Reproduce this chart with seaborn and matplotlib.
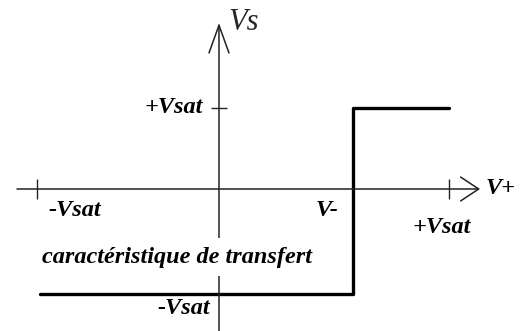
import matplotlib
matplotlib.use("Agg")
import matplotlib.pyplot as plt
import seaborn as sns
import pandas as pd

# Transfer characteristic of a comparator (units: +Vsat = 1)
vsat_pos = 1.0
vsat_neg_x = -0.79      # position of the -Vsat tick on the V+ axis (schematic)
v_minus = 0.583         # switching threshold V-
vs_low = -1.30          # low output level (schematic)
vs_high = 1.0           # high output level

curve_x = [-0.78, v_minus, v_minus, 1.0]
curve_y = [vs_low, vs_low, vs_high, vs_high]

x_ticks = [vsat_neg_x, vsat_pos]
y_ticks = [vsat_pos]
x_tick_labels = ["-Vsat", "+Vsat"]
y_tick_labels = ["+Vsat", "-Vsat"]

sns.set_style("white")
plt.rcParams['font.family'] = ['Liberation Serif', 'DejaVu Serif']

fig = plt.figure(figsize=(5.24, 3.31), dpi=100)
ax = fig.add_axes([0, 0, 1, 1])

df = pd.DataFrame({"V+": curve_x, "Vs": curve_y})
sns.lineplot(data=df, x="V+", y="Vs", sort=False, estimator=None,
             color="black", linewidth=2.4, ax=ax)

ax.set_xlim(-0.952, 1.326)
ax.set_ylim(-1.753, 2.333)

# axes through the origin
for s in ax.spines.values():
    s.set_color("none")
ax.spines['left'].set_position(('data', 0))
ax.spines['bottom'].set_position(('data', 0))
ax.set_xticks(x_ticks)
ax.set_yticks(y_ticks)
ax.set_xticklabels([])
ax.set_yticklabels([])
ax.tick_params(axis='x', bottom=True, top=False, direction='inout',
               length=14, width=1.0, color='#222222')
ax.tick_params(axis='y', left=True, right=False, direction='inout',
               length=12, width=1.0, color='#222222')
ax.set_xlabel("")
ax.set_ylabel("")

# axis lines with open arrow heads
ax.annotate("", xy=(1.135, 0), xytext=(-0.878, 0),
            arrowprops=dict(arrowstyle="->,head_length=0.65,head_width=0.43",
                            mutation_scale=20, color="#222222", lw=1.1,
                            shrinkA=0, shrinkB=0))
ax.annotate("", xy=(0, 2.05), xytext=(0, -1.753),
            arrowprops=dict(arrowstyle="->,head_length=1.0,head_width=0.36",
                            mutation_scale=20, color="#222222", lw=1.1,
                            shrinkA=0, shrinkB=0))

lab = dict(fontsize=17.5, fontweight='bold', style='italic', color='black')
ax.text(0.043, 2.05, "Vs", fontsize=22, style='italic', ha='left', va='center')
ax.text(1.157, 0.0, "V+", ha='left', va='center', **lab)
ax.text(-0.07, vsat_pos, y_tick_labels[0], ha='right', va='center', **lab)
ax.text(-0.74, -0.26, x_tick_labels[0], ha='left', va='center', **lab)
ax.text(0.42, -0.26, "V-", ha='left', va='center', **lab)
ax.text(0.84, -0.47, x_tick_labels[1], ha='left', va='center', **lab)
ax.text(-0.04, -1.47, y_tick_labels[1], ha='right', va='center', **lab)
ax.text(-0.77, -0.84, "caractéristique de transfert", ha='left', va='center',
        bbox=dict(facecolor='white', edgecolor='none', pad=6), **lab)

fig.savefig("out.png", dpi=100, facecolor="white")
